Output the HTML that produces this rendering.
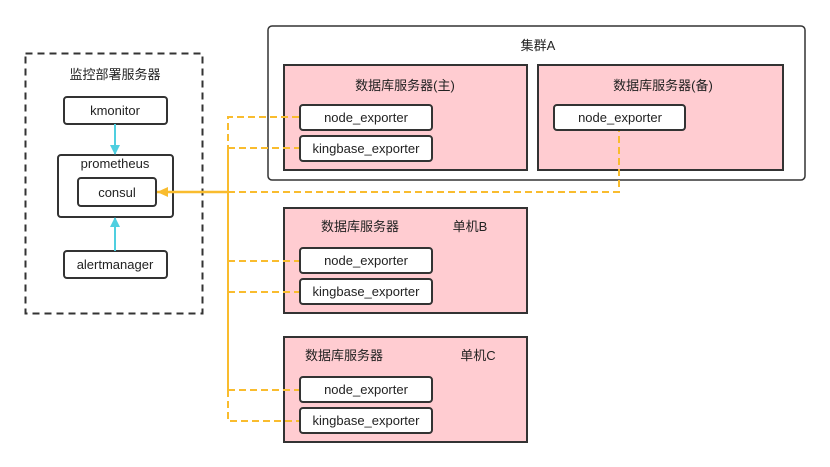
<!DOCTYPE html>
<html><head><meta charset="utf-8"><style>
html,body{margin:0;padding:0;background:#fff;}
svg{display:block;}
text{font-family:"Liberation Sans","Noto Sans CJK SC",sans-serif;font-size:13px;fill:#222;}
</style></head><body>
<svg width="830" height="467" viewBox="0 0 830 467" xmlns="http://www.w3.org/2000/svg">
<defs>
<marker id="cy" markerWidth="10" markerHeight="10" refX="9" refY="5" orient="auto" markerUnits="userSpaceOnUse"><path d="M0,0 L10,5 L0,10 Z" fill="#4fcfe0"/></marker>
<marker id="yl" markerWidth="12" markerHeight="12" refX="11" refY="6" orient="auto" markerUnits="userSpaceOnUse"><path d="M0,1 L11,6 L0,11 Z" fill="#f9bc2e"/></marker>
</defs>
<!-- monitor server -->
<rect x="25.5" y="53.5" width="177" height="260" fill="none" stroke="#333" stroke-width="2" stroke-dasharray="7,5"/>
<text x="115" y="79" text-anchor="middle">监控部署服务器</text>
<g fill="#fff" stroke="#333" stroke-width="2">
<rect x="64" y="97" width="103" height="27" rx="3"/>
<rect x="58" y="155" width="115" height="62" rx="3"/>
<rect x="78" y="178" width="78" height="28" rx="3"/>
<rect x="64" y="251" width="103" height="27" rx="3"/>
</g>
<text x="115" y="115" text-anchor="middle">kmonitor</text>
<text x="115" y="168" text-anchor="middle">prometheus</text>
<text x="117" y="197" text-anchor="middle">consul</text>
<text x="115" y="269" text-anchor="middle">alertmanager</text>
<line x1="115" y1="124" x2="115" y2="154" stroke="#4fcfe0" stroke-width="2" marker-end="url(#cy)"/>
<line x1="115" y1="251" x2="115" y2="218" stroke="#4fcfe0" stroke-width="2" marker-end="url(#cy)"/>
<!-- cluster A -->
<rect x="268" y="26" width="537" height="154" rx="4" fill="#fff" stroke="#333" stroke-width="1.5"/>
<text x="538" y="50" text-anchor="middle">集群A</text>
<rect x="284" y="65" width="243" height="105" fill="#ffccd1" stroke="#333" stroke-width="2"/>
<text x="405" y="90" text-anchor="middle">数据库服务器(主)</text>
<rect x="538" y="65" width="245" height="105" fill="#ffccd1" stroke="#333" stroke-width="2"/>
<text x="663" y="90" text-anchor="middle">数据库服务器(备)</text>
<g fill="#fff" stroke="#333" stroke-width="2">
<rect x="300" y="105" width="132" height="25" rx="3"/>
<rect x="300" y="136" width="132" height="25" rx="3"/>
<rect x="554" y="105" width="131" height="25" rx="3"/>
</g>
<text x="366" y="122" text-anchor="middle">node_exporter</text>
<text x="366" y="153" text-anchor="middle">kingbase_exporter</text>
<text x="620" y="122" text-anchor="middle">node_exporter</text>
<!-- B -->
<rect x="284" y="208" width="243" height="105" fill="#ffccd1" stroke="#333" stroke-width="2"/>
<text x="360" y="231" text-anchor="middle">数据库服务器</text>
<text x="470" y="231" text-anchor="middle">单机B</text>
<rect x="300" y="248" width="132" height="25" rx="3" fill="#fff" stroke="#333" stroke-width="2"/>
<rect x="300" y="279" width="132" height="25" rx="3" fill="#fff" stroke="#333" stroke-width="2"/>
<text x="366" y="265" text-anchor="middle">node_exporter</text>
<text x="366" y="296" text-anchor="middle">kingbase_exporter</text>
<!-- C -->
<rect x="284" y="337" width="243" height="105" fill="#ffccd1" stroke="#333" stroke-width="2"/>
<text x="344" y="360" text-anchor="middle">数据库服务器</text>
<text x="478" y="360" text-anchor="middle">单机C</text>
<rect x="300" y="377" width="132" height="25" rx="3" fill="#fff" stroke="#333" stroke-width="2"/>
<rect x="300" y="408" width="132" height="25" rx="3" fill="#fff" stroke="#333" stroke-width="2"/>
<text x="366" y="394" text-anchor="middle">node_exporter</text>
<text x="366" y="425" text-anchor="middle">kingbase_exporter</text>
<!-- yellow connectors -->
<g stroke="#f9bc2e" stroke-width="2" fill="none">
<path d="M228,148 V390"/>
<path d="M299,117 H228 V148" stroke-dasharray="7,4"/>
<path d="M228,390 V421 H299" stroke-dasharray="7,4"/>
<path d="M228,148 H299" stroke-dasharray="7,4"/>
<path d="M228,261 H299" stroke-dasharray="7,4"/>
<path d="M228,292 H299" stroke-dasharray="7,4"/>
<path d="M228,390 H299" stroke-dasharray="7,4"/>
<path d="M228,192 H619 V131" stroke-dasharray="7,4"/>
<line x1="228" y1="192" x2="157" y2="192" stroke-width="2.5" marker-end="url(#yl)"/>
</g>
</svg>
</body></html>
